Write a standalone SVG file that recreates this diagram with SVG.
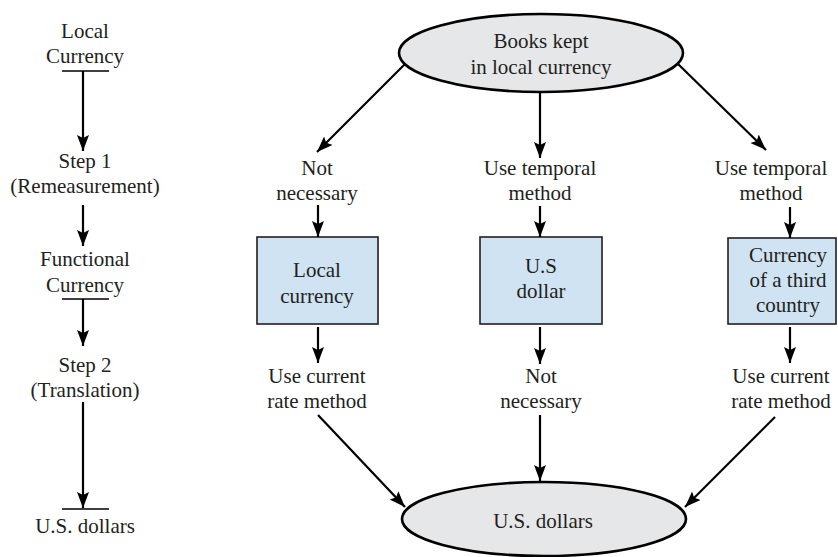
<svg xmlns="http://www.w3.org/2000/svg" width="838" height="557" viewBox="0 0 838 557" font-family="'Liberation Serif', 'DejaVu Serif', serif">
  <style>
    text { font-family: 'Liberation Serif', 'DejaVu Serif', serif; font-size: 21px; fill: #231f20; text-anchor: middle; }
    .conn { stroke: #000; stroke-width: 2.2; fill: none; marker-end: url(#arrow); }
    .bar { stroke: #000; stroke-width: 1.6; }
    .oval { fill: #e6e7e9; stroke: #000; stroke-width: 2.6; }
    .box { fill: #cfe3f3; stroke: #231f20; stroke-width: 1.6; }
  </style>
  <defs>
    <marker id="arrow" markerUnits="userSpaceOnUse" markerWidth="18" markerHeight="14" refX="16" refY="6" orient="auto">
      <path d="M0,0 L16,6 L0,12 L3,6 z" fill="#000"/>
    </marker>
  </defs>

  <rect width="838" height="557" fill="#fff"/>

  <!-- Left column: two-step process -->
  <g id="step-local">
    <text x="85" y="38">Local</text>
    <text x="85" y="63">Currency</text>
    <line class="bar" x1="62" y1="71" x2="109" y2="71"/>
  </g>
  <g id="step-1">
    <text x="85" y="168">Step 1</text>
    <text x="85" y="193">(Remeasurement)</text>
  </g>
  <g id="step-functional">
    <text x="85" y="266">Functional</text>
    <text x="85" y="292">Currency</text>
    <line class="bar" x1="62" y1="299" x2="109" y2="299"/>
  </g>
  <g id="step-2">
    <text x="85" y="372">Step 2</text>
    <text x="85" y="397">(Translation)</text>
  </g>
  <g id="step-usd">
    <line class="bar" x1="62" y1="509" x2="109" y2="509"/>
    <text x="85" y="533">U.S. dollars</text>
  </g>

  <!-- Right part: decision paths -->
  <g id="books">
    <ellipse class="oval" cx="541" cy="53" rx="142" ry="39"/>
    <text x="541" y="48">Books kept</text>
    <text x="541" y="74">in local currency</text>
  </g>

  <g id="label-not-necessary-1">
    <text x="317" y="175">Not</text>
    <text x="317" y="200">necessary</text>
  </g>
  <g id="label-temporal-1">
    <text x="540" y="175">Use temporal</text>
    <text x="540" y="200">method</text>
  </g>
  <g id="label-temporal-2">
    <text x="771" y="175">Use temporal</text>
    <text x="771" y="200">method</text>
  </g>

  <g id="box-local">
    <rect class="box" x="257" y="237" width="121" height="87"/>
    <text x="317" y="277">Local</text>
    <text x="317" y="303">currency</text>
  </g>
  <g id="box-usd">
    <rect class="box" x="480" y="237" width="122" height="87"/>
    <text x="541" y="273">U.S</text>
    <text x="541" y="298">dollar</text>
  </g>
  <g id="box-third">
    <rect class="box" x="728" y="238" width="108" height="86"/>
    <text x="788" y="262">Currency</text>
    <text x="788" y="287">of a third</text>
    <text x="788" y="312">country</text>
  </g>

  <g id="label-current-1">
    <text x="317" y="383">Use current</text>
    <text x="317" y="408">rate method</text>
  </g>
  <g id="label-not-necessary-2">
    <text x="541" y="383">Not</text>
    <text x="541" y="408">necessary</text>
  </g>
  <g id="label-current-2">
    <text x="781" y="383">Use current</text>
    <text x="781" y="408">rate method</text>
  </g>

  <g id="dollars">
    <ellipse class="oval" cx="544" cy="519" rx="142" ry="37"/>
    <text x="543" y="528">U.S. dollars</text>
  </g>

  <g id="connectors">
    <!-- left column -->
    <line class="conn" x1="83" y1="71" x2="83" y2="151"/>
    <line class="conn" x1="83" y1="205" x2="83" y2="246"/>
    <line class="conn" x1="83" y1="299" x2="83" y2="346"/>
    <line class="conn" x1="83" y1="402" x2="83" y2="508"/>
    <!-- from books -->
    <line class="conn" x1="405" y1="64" x2="317" y2="152"/>
    <line class="conn" x1="540" y1="92" x2="540" y2="158"/>
    <line class="conn" x1="678" y1="64" x2="766" y2="150"/>
    <!-- into boxes -->
    <line class="conn" x1="318" y1="205" x2="318" y2="237"/>
    <line class="conn" x1="540" y1="206" x2="540" y2="237"/>
    <line class="conn" x1="790" y1="207" x2="790" y2="238"/>
    <!-- out of boxes -->
    <line class="conn" x1="318" y1="327" x2="318" y2="363"/>
    <line class="conn" x1="540" y1="327" x2="540" y2="364"/>
    <line class="conn" x1="790" y1="327" x2="790" y2="363"/>
    <!-- into dollars -->
    <line class="conn" x1="318" y1="415" x2="405" y2="507"/>
    <line class="conn" x1="540" y1="415" x2="540" y2="481"/>
    <line class="conn" x1="775" y1="417" x2="685" y2="507"/>
  </g>
</svg>
